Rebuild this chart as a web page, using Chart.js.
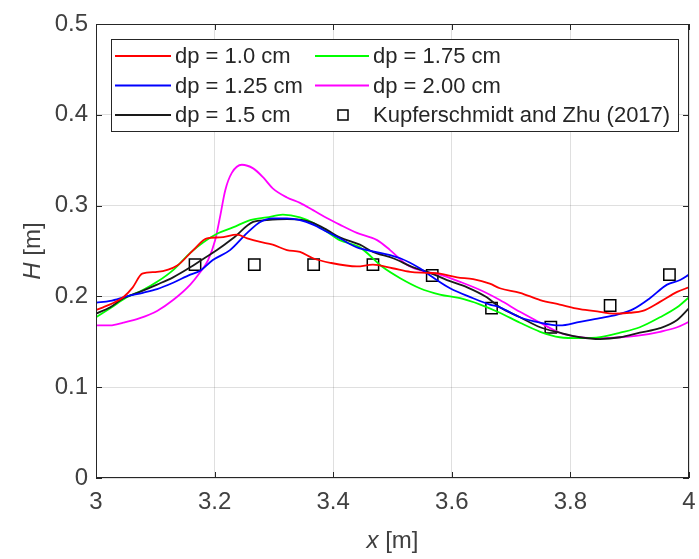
<!DOCTYPE html>
<html>
<head>
<meta charset="utf-8">
<script src="https://cdn.jsdelivr.net/npm/chart.js@4.4.0/dist/chart.umd.min.js"></script>
<style>
body{margin:0;background:#fff;}
canvas{display:block;}
</style>
</head>
<body>
<canvas id="chart" width="699" height="559"></canvas>
<script>
const xTicks=[3,3.2,3.4,3.6,3.8,4];
const yTicks=[0,0.1,0.2,0.3,0.4,0.5];

const seriesLabels=['dp = 1.0 cm','dp = 1.25 cm','dp = 1.5 cm','dp = 1.75 cm','dp = 2.00 cm','Kupferschmidt and Zhu (2017)'];

const dp10X=[3.000,3.012,3.030,3.046,3.062,3.078,3.103,3.137,3.164,3.187,3.209,3.238,3.255,3.277,3.298,3.322,3.344,3.366,3.395,3.440,3.467,3.500,3.530,3.558,3.580,3.609,3.636,3.664,3.681,3.715,3.749,3.782,3.816,3.850,3.872,3.900,3.922,3.951,3.980,4.000];
const dp10H=[0.185,0.188,0.193,0.199,0.210,0.225,0.227,0.234,0.251,0.264,0.265,0.268,0.264,0.260,0.257,0.251,0.249,0.242,0.237,0.233,0.235,0.231,0.227,0.226,0.225,0.221,0.219,0.214,0.209,0.204,0.196,0.191,0.186,0.183,0.181,0.182,0.184,0.194,0.205,0.210];

const dp125X=[3.000,3.024,3.052,3.079,3.103,3.130,3.159,3.175,3.197,3.226,3.255,3.277,3.298,3.322,3.344,3.366,3.390,3.411,3.440,3.479,3.513,3.546,3.568,3.597,3.636,3.664,3.681,3.715,3.749,3.782,3.816,3.850,3.879,3.906,3.934,3.963,3.985,4.000];
const dp125H=[0.193,0.195,0.200,0.204,0.208,0.215,0.224,0.228,0.240,0.251,0.270,0.282,0.286,0.286,0.284,0.279,0.271,0.264,0.254,0.248,0.242,0.231,0.221,0.209,0.198,0.191,0.188,0.177,0.171,0.168,0.172,0.176,0.180,0.186,0.198,0.213,0.218,0.224];

const dp15X=[3.000,3.024,3.046,3.074,3.103,3.130,3.159,3.180,3.204,3.231,3.265,3.288,3.322,3.349,3.366,3.390,3.411,3.445,3.467,3.501,3.535,3.563,3.592,3.626,3.659,3.681,3.715,3.749,3.782,3.816,3.850,3.884,3.917,3.951,3.980,4.000];
const dp15H=[0.181,0.188,0.198,0.205,0.213,0.221,0.232,0.241,0.251,0.264,0.282,0.284,0.285,0.284,0.281,0.273,0.265,0.257,0.249,0.242,0.232,0.226,0.218,0.210,0.199,0.188,0.177,0.166,0.160,0.155,0.153,0.155,0.160,0.165,0.174,0.187];

const dp175X=[3.000,3.024,3.052,3.079,3.103,3.130,3.159,3.180,3.204,3.231,3.260,3.288,3.315,3.344,3.366,3.390,3.411,3.445,3.484,3.513,3.546,3.580,3.614,3.648,3.681,3.715,3.749,3.782,3.816,3.850,3.884,3.917,3.951,3.980,4.000];
const dp175H=[0.177,0.187,0.199,0.207,0.216,0.229,0.248,0.259,0.269,0.276,0.284,0.287,0.290,0.287,0.281,0.271,0.262,0.254,0.232,0.220,0.209,0.202,0.198,0.191,0.182,0.171,0.161,0.155,0.154,0.155,0.160,0.166,0.177,0.188,0.199];

const dp200X=[3.000,3.024,3.046,3.074,3.103,3.130,3.159,3.175,3.189,3.201,3.209,3.218,3.229,3.246,3.265,3.282,3.298,3.322,3.344,3.366,3.390,3.411,3.440,3.474,3.496,3.524,3.546,3.580,3.614,3.648,3.681,3.715,3.749,3.782,3.816,3.850,3.884,3.917,3.951,3.980,4.000];
const dp200H=[0.168,0.168,0.171,0.176,0.184,0.196,0.213,0.226,0.240,0.262,0.287,0.317,0.336,0.345,0.341,0.331,0.319,0.309,0.303,0.295,0.286,0.279,0.270,0.262,0.251,0.235,0.229,0.224,0.216,0.207,0.196,0.183,0.171,0.160,0.155,0.154,0.155,0.157,0.161,0.166,0.172];

const expX=[3.167,3.267,3.367,3.467,3.567,3.667,3.767,3.867,3.967];
const expH=[0.235,0.235,0.235,0.235,0.223,0.187,0.166,0.190,0.224];

function pts(xs,ys){
  return xs.map((x,i)=>({x:x,y:ys[i]}));
}

function lineSet(label,xs,ys,color){
  return {
    label:label,
    data:pts(xs,ys),
    borderColor:color,
    backgroundColor:color,
    borderWidth:1.8,
    pointRadius:0,
    cubicInterpolationMode:'monotone',
    fill:false
  };
}

const tickColor='#404040';
const axisColor='#262626';

// matlab style box, inward ticks, legend and titles
const matlabFrame={
  id:'matlabFrame',
  afterDraw(chart){
    const ctx=chart.ctx;
    const a=chart.chartArea;
    const xs=chart.scales.x, ys=chart.scales.y;
    ctx.save();
    ctx.strokeStyle=axisColor;
    ctx.lineWidth=1;
    ctx.strokeRect(a.left+0.5,a.top+0.5,a.right-a.left-1,a.bottom-a.top-1);
    ctx.beginPath();
    xTicks.forEach(v=>{
      const px=Math.round(xs.getPixelForValue(v))+0.5;
      ctx.moveTo(px,a.bottom);ctx.lineTo(px,a.bottom-6);
      ctx.moveTo(px,a.top);ctx.lineTo(px,a.top+6);
    });
    yTicks.forEach(v=>{
      const py=Math.round(ys.getPixelForValue(v))+0.5;
      ctx.moveTo(a.left,py);ctx.lineTo(a.left+6,py);
      ctx.moveTo(a.right,py);ctx.lineTo(a.right-6,py);
    });
    ctx.stroke();

    // legend
    const lx=111, ly=39, lw=567, lh=92;
    ctx.fillStyle='#fff';
    ctx.fillRect(lx,ly,lw,lh);
    ctx.strokeRect(lx+0.5,ly+0.5,lw,lh);
    const rows=[56,85.5,115];
    const cols=[{l0:115,l1:171,t:175},{l0:315,l1:369,t:373}];
    ctx.font='22px "Liberation Sans", Arial, sans-serif';
    ctx.textBaseline='middle';
    ctx.textAlign='left';
    chart.data.datasets.forEach((ds,i)=>{
      const c=cols[Math.floor(i/3)], r=rows[i%3];
      if(ds.showLine===false){
        ctx.strokeStyle='#000';
        ctx.lineWidth=1.5;
        ctx.strokeRect(c.l0+23,r-5,10,10);
      }else{
        ctx.strokeStyle=ds.borderColor;
        ctx.lineWidth=1.8;
        ctx.beginPath();ctx.moveTo(c.l0,r);ctx.lineTo(c.l1,r);ctx.stroke();
      }
      ctx.fillStyle='#262626';
      ctx.fillText(ds.label,c.t,r+1);
    });

    // axis titles
    ctx.fillStyle=tickColor;
    ctx.font='italic 24px "Liberation Sans", Arial, sans-serif';
    const xi='x', xr=' [m]';
    ctx.textBaseline='middle';
    const w1=ctx.measureText(xi).width;
    ctx.font='24px "Liberation Sans", Arial, sans-serif';
    const w2=ctx.measureText(xr).width;
    const cx=(a.left+a.right)/2;
    ctx.font='italic 24px "Liberation Sans", Arial, sans-serif';
    ctx.fillText(xi,cx-(w1+w2)/2,541);
    ctx.font='24px "Liberation Sans", Arial, sans-serif';
    ctx.fillText(xr,cx-(w1+w2)/2+w1,541);

    ctx.translate(33,(a.top+a.bottom)/2);
    ctx.rotate(-Math.PI/2);
    ctx.font='italic 24px "Liberation Sans", Arial, sans-serif';
    const h1=ctx.measureText('H').width;
    ctx.font='24px "Liberation Sans", Arial, sans-serif';
    const h2=ctx.measureText(' [m]').width;
    ctx.font='italic 24px "Liberation Sans", Arial, sans-serif';
    ctx.fillText('H',-(h1+h2)/2,0);
    ctx.font='24px "Liberation Sans", Arial, sans-serif';
    ctx.fillText(' [m]',-(h1+h2)/2+h1,0);
    ctx.restore();
  }
};

const ctx1=document.getElementById('chart').getContext('2d');
const myChart=new Chart(ctx1,{
  type:'line',
  data:{
    datasets:[
      lineSet(seriesLabels[0],dp10X,dp10H,'#ff0000'),
      lineSet(seriesLabels[1],dp125X,dp125H,'#0000ff'),
      lineSet(seriesLabels[2],dp15X,dp15H,'#1a1a1a'),
      lineSet(seriesLabels[3],dp175X,dp175H,'#00ff00'),
      lineSet(seriesLabels[4],dp200X,dp200H,'#ff00ff'),
      {
        label:seriesLabels[5],
        data:pts(expX,expH),
        showLine:false,
        pointStyle:'rect',
        pointRadius:8,
        pointBorderWidth:1.5,
        borderColor:'#000',
        backgroundColor:'rgba(0,0,0,0)'
      }
    ]
  },
  options:{
    responsive:false,
    animation:false,
    layout:{padding:{left:0,top:24,right:10,bottom:0}},
    plugins:{legend:{display:false},tooltip:{enabled:false}},
    scales:{
      x:{
        type:'linear',
        min:3,max:4,
        afterBuildTicks:s=>{s.ticks=xTicks.map(v=>({value:v}));},
        afterFit:s=>{s.height=81;s.paddingLeft=0;s.paddingRight=0;},
        grid:{color:'rgba(38,38,38,0.15)',drawTicks:false},
        border:{display:false},
        ticks:{
          color:tickColor,
          padding:10,
          font:{family:'"Liberation Sans", Arial, sans-serif',size:24},
          callback:v=>String(v)
        }
      },
      y:{
        min:0,max:0.5,
        afterBuildTicks:s=>{s.ticks=yTicks.map(v=>({value:v}));},
        afterFit:s=>{s.width=96;s.paddingTop=0;s.paddingBottom=0;},
        grid:{color:'rgba(38,38,38,0.15)',drawTicks:false},
        border:{display:false},
        ticks:{
          color:tickColor,
          padding:8,
          font:{family:'"Liberation Sans", Arial, sans-serif',size:24},
          callback:v=>String(v)
        }
      }
    }
  },
  plugins:[matlabFrame]
});
</script>
</body>
</html>
